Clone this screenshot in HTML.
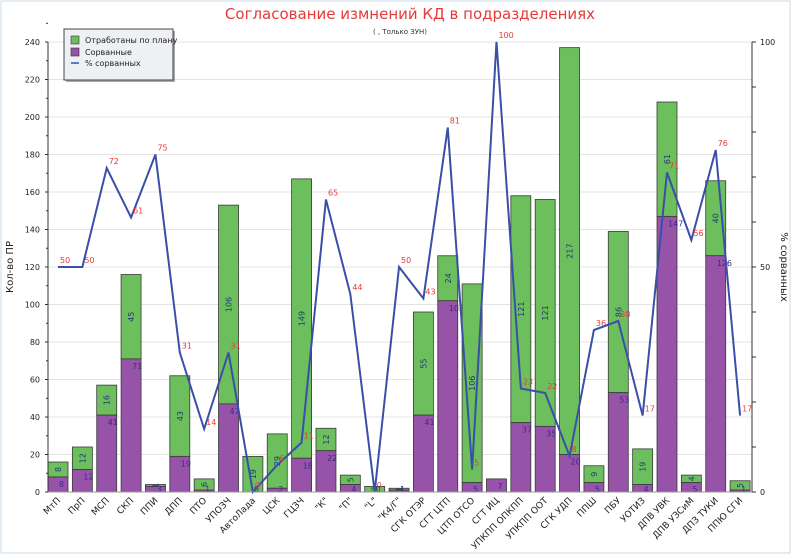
<!DOCTYPE html>
<html><head><meta charset="utf-8"><style>
body{margin:0;background:#fff;font-family:"Liberation Sans",sans-serif}
svg text{font-family:"DejaVu Sans","Liberation Sans",sans-serif}
</style></head><body>
<svg id="c" width="791" height="554" viewBox="0 0 791 554" xmlns="http://www.w3.org/2000/svg">
<rect x="1" y="1" width="789" height="552" fill="#fff" stroke="#c9d9e8"/>
<text x="410" y="19" fill="#e8393a" font-size="15" text-anchor="middle">Согласование измнений КД в подразделениях</text>
<text x="400" y="34" fill="#333" font-size="7" text-anchor="middle">( , Только ЗУН)</text>
<text transform="translate(13,267) rotate(-90)" font-size="10" text-anchor="middle" fill="#222">Кол-во ПР</text>
<text transform="translate(781,267) rotate(90)" font-size="10" text-anchor="middle" fill="#222">% сорванных</text>
<g id="grid"></g><g id="bars"></g><g id="line"></g><g id="axes"></g>
<g>
<rect x="66" y="31" width="109" height="51" fill="#555" opacity="0.5"/>
<rect x="64" y="29" width="109" height="51" fill="#eef0f4" stroke="#444"/>
<rect x="71" y="36" width="8" height="8" fill="#6cbf5c" stroke="#333" stroke-width="0.6"/>
<text x="85" y="43" font-size="8" fill="#222">Отработаны по плану</text>
<rect x="71" y="48" width="8" height="8" fill="#9653a8" stroke="#333" stroke-width="0.6"/>
<text x="85" y="55" font-size="8" fill="#222">Сорванные</text>
<line x1="71" y1="63" x2="79" y2="63" stroke="#3a4fa8" stroke-width="1.5"/>
<text x="85" y="66" font-size="8" fill="#222">% сорванных</text>
</g>
</svg>
<script>
const categories=["МтП","ПрП","МСП","СКП","ППИ","ДПП","ПТО","УПОЗЧ","АвтоЛада","ЦСК","ГЦЗЧ","\"К\"","\"П\"","\"L\"","\"К4/Г\"","СГК ОТЭР","СГТ ЦТП","ЦТП ОТСО","СГТ ИЦ","УПКПП ОПКПП","УПКПП ООТ","СГК УДП","ППШ","ПБУ","УОТИЗ","ДПВ УВК","ДПВ УЗСиМ","ДПЗ ТУКИ","ППЮ СГИ"];
const failed=[8,12,41,71,3,19,1,47,0,2,18,22,4,0,1,41,102,5,7,37,35,20,5,53,4,147,5,126,1];
const onPlan=[8,12,16,45,1,43,6,106,19,29,149,12,5,3,1,55,24,106,0,121,121,217,9,86,19,61,4,40,5];
const pct=[50,50,72,61,75,31,14,31,0,6,11,65,44,0,50,43,81,5,100,23,22,8,36,38,17,71,56,76,17];
const leftTicks=[0,20,40,60,80,100,120,140,160,180,200,220,240];
const rightTicks=[0,50,100];
const NS="http://www.w3.org/2000/svg";
const X0=58,DX=24.36,Y0=492,Y1=42,BW=20;
const xs=i=>X0+i*DX, yL=v=>Y0-(v/240)*(Y0-Y1), yR=v=>Y0-(v/100)*(Y0-Y1);
function mk(p,t,a){const e=document.createElementNS(NS,t);for(const k in a)e.setAttribute(k,a[k]);p.appendChild(e);return e;}
const G=document.getElementById('grid'),B=document.getElementById('bars'),L=document.getElementById('line'),A=document.getElementById('axes');
leftTicks.forEach(v=>{
 const g=mk(G,'line',{x1:48,x2:752,y1:yL(v),y2:yL(v),stroke:'#e4e4e4','stroke-width':1});
 
 
 const t=mk(A,'text',{x:40,y:yL(v)+3,'font-size':8,'text-anchor':'end',fill:'#222'});t.textContent=v;
 
 
 mk(A,'line',{x1:45,x2:48,y1:yL(v),y2:yL(v),stroke:'#333'});
 mk(A,'line',{x1:46,x2:48,y1:yL(v+10),y2:yL(v+10),stroke:'#333'});
});
for(let v=0;v<=100;v+=10)mk(A,'line',{x1:752,x2:756,y1:yR(v),y2:yR(v),stroke:'#333'});
rightTicks.forEach(v=>{const t=mk(A,'text',{x:760,y:yR(v)+3,'font-size':8,fill:'#222'});t.textContent=v;
 
 });
mk(A,'line',{x1:48,x2:48,y1:Y1,y2:Y0,stroke:'#333'});
mk(A,'line',{x1:752,x2:752,y1:Y1,y2:Y0,stroke:'#333'});
mk(A,'line',{x1:48,x2:752,y1:Y0,y2:Y0,stroke:'#999'});
categories.forEach((c,i)=>{
 const x=xs(i);
 const yf=yL(failed[i]),yt=yL(failed[i]+onPlan[i]);
 const g=mk(B,'rect',{x:x-BW/2,y:yt,width:BW,height:Math.max(yf-yt,0),fill:'#6cbf5c',stroke:'#3a3a3a','stroke-width':0.8});
 
 
 const p=mk(B,'rect',{x:x-BW/2,y:yf,width:BW,height:Y0-yf,fill:'#9653a8',stroke:'#3a3a3a','stroke-width':0.8});
 
 
 const lt=mk(B,'text',{x:x+1,y:Math.min(yf+10,Y0),'font-size':8,fill:'#3b2a8a'});lt.textContent=failed[i];
 
 
 if(onPlan[i]>0){
 const gy=(yf+yt)/2;
 const gt=mk(B,'text',{transform:`translate(${x+3},${gy}) rotate(-90)`,'font-size':8,'text-anchor':'middle',fill:'#1e3a6e'});gt.textContent=onPlan[i];
 
 
 }
 const xl=mk(A,'text',{transform:`translate(${x+3},${Y0+9}) rotate(-45)`,'font-size':9,'text-anchor':'end',fill:'#222'});xl.textContent=c;
 
 
});
const pts=pct.map((v,i)=>xs(i)+','+yR(v)).join(' ');
const pl=mk(L,'polyline',{points:pts,fill:'none',stroke:'#3a4fa8','stroke-width':2});


pct.forEach((v,i)=>{const t=mk(L,'text',{x:xs(i)+2,y:yR(v)-4,'font-size':8,fill:'#e8393a'});t.textContent=v;
 
 });
</script>
</body></html>
